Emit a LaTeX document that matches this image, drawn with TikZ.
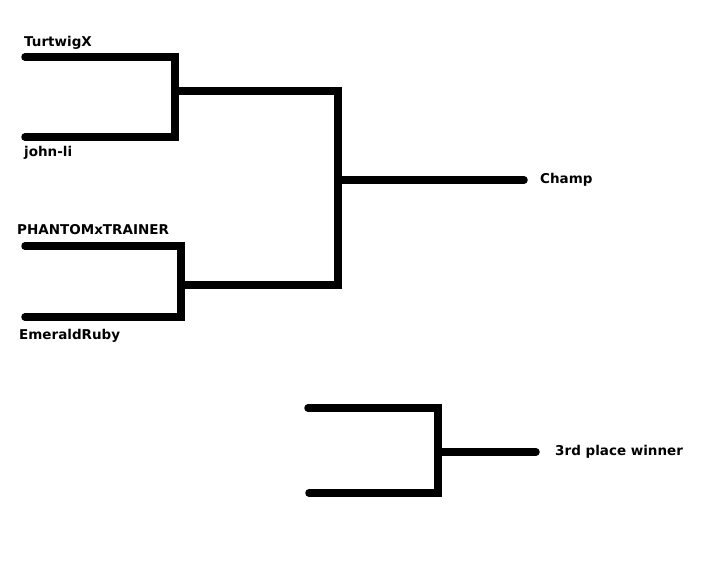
\documentclass[tikz,border=0pt]{standalone}
\usepackage{fontspec}
\setmainfont{DejaVu Sans}
\begin{document}
\begin{tikzpicture}[x=1pt,y=-1pt,
  wire/.style={line width=7.5pt,line cap=round,line join=miter,black},
  lbl/.style={font=\bfseries\fontsize{13.5}{15}\selectfont,inner sep=0pt}]
\useasboundingbox[fill=white] (0,0) rectangle (716,567);
% first round, top
\coordinate (t1) at (25,57);
\coordinate (t1c) at (175,57);
\coordinate (j1) at (25,137);
\coordinate (j1c) at (175,137);
\coordinate (m1) at (175,91);
\coordinate (m1r) at (338,91);
% first round, bottom
\coordinate (p1) at (25,246);
\coordinate (p1c) at (181,246);
\coordinate (e1) at (25,317);
\coordinate (e1c) at (181,317);
\coordinate (m2) at (181,285);
\coordinate (m2r) at (338,285);
% final
\coordinate (f) at (338,180);
\coordinate (fr) at (524,180);
% third place
\coordinate (a1) at (308,408);
\coordinate (a1c) at (438,408);
\coordinate (b1) at (309,493);
\coordinate (b1c) at (438,493);
\coordinate (c1) at (438,452);
\coordinate (c1r) at (536,452);

\draw[wire] (t1) -- (t1c) -- (j1c) -- (j1);
\draw[wire] (m1) -- (m1r) -- (m2r) -- (m2);
\draw[wire] (p1) -- (p1c) -- (e1c) -- (e1);
\draw[wire] (f) -- (fr);
\draw[wire] (a1) -- (a1c) -- (b1c) -- (b1);
\draw[wire] (c1) -- (c1r);

\node[lbl,anchor=west] (turtwig) at (24,43) {TurtwigX};
\node[lbl,anchor=west] (john) at (24,153) {john-li};
\node[lbl,anchor=west] (phantom) at (17,230) {PHANTOMxTRAINER};
\node[lbl,anchor=west] (emerald) at (19,336) {EmeraldRuby};
\node[lbl,anchor=west] (champ) at (540,180) {Champ};
\node[lbl,anchor=west] (third) at (555,452) {3rd place winner};
\end{tikzpicture}
\end{document}
